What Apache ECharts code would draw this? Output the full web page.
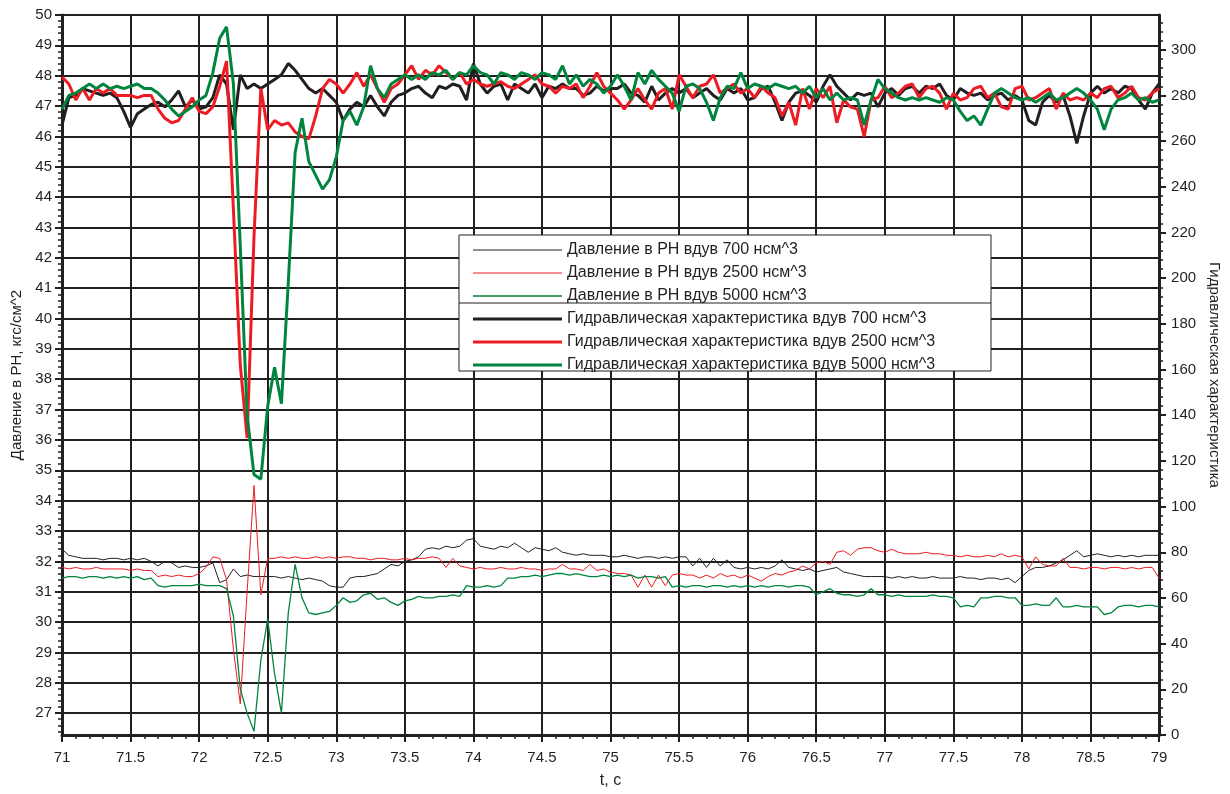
<!DOCTYPE html>
<html><head><meta charset="utf-8">
<script src="https://cdn.jsdelivr.net/npm/echarts@6/dist/echarts.min.js"></script>
<style>html,body{margin:0;padding:0;background:#fff}#c{width:1230px;height:794px}</style>
</head><body><div id="c"></div>
<script>
// sampling grid of the recorded signals (s)
const T_START = 71;
const T_STEP = 0.05;

// Давление в РН, кгс/см^2 (left axis)
const pressure700 = [
32.4,32.2,32.15,32.1,32.1,32.1,32.05,32.1,32.1,32.05,
32.1,32.05,32.1,32.0,31.85,32.0,31.95,31.8,31.85,31.8,
31.8,31.85,31.95,31.3,31.4,31.75,31.5,31.55,31.5,31.5,
31.5,31.5,31.45,31.5,31.45,31.4,31.45,31.4,31.35,31.2,
31.15,31.15,31.45,31.5,31.5,31.55,31.6,31.75,31.9,31.85,
32.0,32.05,32.15,32.4,32.45,32.4,32.5,32.45,32.5,32.7,
32.75,32.5,32.45,32.4,32.5,32.45,32.6,32.45,32.3,32.45,
32.4,32.35,32.45,32.3,32.25,32.2,32.25,32.2,32.2,32.2,
32.15,32.15,32.2,32.15,32.1,32.15,32.15,32.1,32.15,32.1,
32.15,32.15,31.85,32.1,31.8,32.1,31.85,32.05,31.8,31.75,
31.8,31.75,31.8,31.75,31.85,32.05,31.8,31.75,31.7,31.75,
31.65,31.7,31.75,31.8,31.65,31.6,31.55,31.5,31.5,31.5,
31.5,31.45,31.5,31.45,31.5,31.45,31.45,31.5,31.45,31.45,
31.45,31.5,31.45,31.45,31.4,31.45,31.45,31.4,31.45,31.3,
31.5,31.7,31.8,31.8,31.85,31.95,32.05,32.2,32.35,32.15,
32.2,32.25,32.2,32.15,32.2,32.15,32.2,32.15,32.2,32.2,
32.2];
const pressure2500 = [
31.8,31.75,31.8,31.75,31.75,31.8,31.75,31.75,31.75,31.75,
31.7,31.75,31.7,31.7,31.5,31.55,31.5,31.55,31.5,31.5,
31.6,31.8,32.15,32.1,31.4,29.1,27.3,31.0,34.5,30.9,
32.1,32.1,32.15,32.1,32.15,32.1,32.1,32.15,32.1,32.15,
32.1,32.15,32.15,32.1,32.1,32.05,32.1,32.1,32.05,32.05,
32.1,32.05,32.1,32.1,32.15,32.1,31.8,32.1,31.85,31.8,
31.75,31.8,31.75,31.75,31.8,31.75,31.75,31.8,31.75,31.75,
31.7,31.75,31.75,31.9,31.75,31.75,31.7,31.9,31.7,31.75,
31.65,31.6,31.6,31.55,31.15,31.55,31.15,31.55,31.2,31.55,
31.6,31.55,31.55,31.45,31.55,31.45,31.6,31.5,31.55,31.45,
31.55,31.45,31.35,31.5,31.6,31.55,31.65,31.7,31.85,31.75,
31.95,32.0,31.9,32.3,32.35,32.2,32.4,32.45,32.45,32.35,
32.3,32.4,32.3,32.25,32.25,32.25,32.3,32.25,32.25,32.2,
32.2,32.15,32.2,32.15,32.15,32.2,32.15,32.25,32.15,32.2,
32.15,31.75,32.15,31.9,31.85,31.85,32.1,31.8,31.8,31.75,
31.8,31.8,31.75,31.8,31.8,31.75,31.8,31.75,31.8,31.8,
31.45];
const pressure5000 = [
31.45,31.5,31.5,31.45,31.5,31.5,31.45,31.5,31.45,31.5,
31.45,31.5,31.4,31.45,31.2,31.15,31.2,31.2,31.2,31.2,
31.25,31.2,31.2,31.2,31.1,30.2,27.8,27.0,26.4,28.75,
30.1,28.3,27.0,30.3,31.9,30.8,30.3,30.25,30.3,30.35,
30.55,30.8,30.65,30.7,30.9,30.95,30.75,30.8,30.65,30.55,
30.7,30.75,30.85,30.8,30.8,30.85,30.85,30.9,30.85,31.2,
31.15,31.15,31.2,31.15,31.2,31.45,31.45,31.5,31.5,31.55,
31.5,31.55,31.6,31.6,31.55,31.6,31.55,31.5,31.5,31.55,
31.5,31.55,31.5,31.55,31.45,31.5,31.5,31.45,31.5,31.15,
31.2,31.15,31.2,31.2,31.15,31.2,31.2,31.15,31.2,31.15,
31.2,31.15,31.2,31.15,31.2,31.2,31.15,31.2,31.2,31.15,
30.9,31.0,31.1,30.95,30.9,30.9,30.85,30.9,31.1,30.9,
30.9,30.85,30.9,30.85,30.85,30.85,30.85,30.9,30.85,30.85,
30.8,30.5,30.55,30.5,30.8,30.8,30.85,30.85,30.8,30.8,
30.55,30.55,30.6,30.55,30.55,30.8,30.5,30.5,30.55,30.5,
30.5,30.5,30.25,30.3,30.5,30.55,30.55,30.5,30.55,30.55,
30.5];

// Гидравлическая характеристика (right axis)
const hydro700 = [
267,279,280,283,282,281,280,281,279,273,
266,272,274,276,277,275,278,282,275,278,
274,275,279,289,285,265,289,283,285,283,
285,287,289,294,291,287,283,281,283,280,
277,269,274,277,275,280,275,271,277,280,
281,283,284,281,279,284,283,285,284,278,
294,285,281,284,285,278,285,283,281,285,
279,284,283,285,283,283,280,281,284,282,
283,283,285,281,280,277,284,278,281,283,
281,283,279,281,283,280,278,283,281,283,
278,279,283,284,277,269,277,281,282,280,
277,284,289,284,281,278,281,280,281,275,
281,283,280,283,284,281,284,283,285,280,
278,283,281,280,281,278,280,281,278,280,
278,269,267,277,280,277,280,271,259,271,
281,284,281,283,281,284,283,278,274,281,
285];
const hydro2500 = [
288,285,278,283,278,283,281,283,280,280,
280,279,280,280,274,270,268,269,274,279,
273,272,275,284,295,230,162,130,218,283,
265,269,267,268,264,262,261,271,283,287,
285,281,285,290,284,289,283,277,283,285,
289,293,287,291,289,293,290,287,290,285,
287,285,284,285,286,284,283,285,287,289,
285,284,281,284,283,285,279,284,290,284,
281,278,274,278,283,278,274,281,283,274,
289,284,279,284,285,289,281,283,285,281,
283,279,284,281,279,271,277,267,283,274,
283,279,284,268,278,275,274,262,278,279,
284,279,281,284,285,279,283,284,281,274,
281,278,279,283,284,279,281,275,274,283,
284,278,279,281,283,274,281,278,279,278,
281,279,283,284,279,281,284,279,278,281,
283];
const hydro5000 = [
274,280,281,283,285,283,285,283,284,283,
284,285,283,283,281,278,274,271,273,275,
278,280,290,305,310,285,214,140,114,112,
144,161,145,198,255,270,251,245,239,243,
253,269,273,267,275,293,283,279,285,287,
289,287,289,287,290,289,291,287,290,289,
293,290,289,285,290,289,287,290,289,287,
290,289,287,293,285,289,284,287,285,281,
284,289,284,278,290,285,291,287,284,281,
273,284,285,283,277,269,279,284,283,290,
283,285,284,283,285,284,283,284,281,284,
279,283,278,281,278,279,278,267,278,287,
283,281,279,278,279,278,279,278,277,279,
278,273,269,271,267,274,281,283,281,279,
278,279,277,279,281,278,279,281,283,281,
278,274,265,274,278,279,281,278,279,277,
278];

// tick labels
const leftTicks = [27,28,29,30,31,32,33,34,35,36,37,38,39,40,41,42,43,44,45,46,47,48,49,50];
const rightTicks = [0,20,40,60,80,100,120,140,160,180,200,220,240,260,280,300];

const names = [
  'Давление в РН вдув 700 нсм^3',
  'Давление в РН вдув 2500 нсм^3',
  'Давление в РН вдув 5000 нсм^3',
  'Гидравлическая характеристика вдув 700 нсм^3',
  'Гидравлическая характеристика вдув 2500 нсм^3',
  'Гидравлическая характеристика вдув 5000 нсм^3'
];

const INK = '#231f20', RED = '#ed1c24', GREEN = '#00853e';
const FONT = '"Liberation Sans", Arial, sans-serif';

function pairs(arr) {
  return arr.map((v, i) => [Math.round((T_START + i * T_STEP) * 100) / 100, v]);
}

// minor tick positions (0.2 on the left, 4 on the right)
const leftMinor = [];
for (let k = 132; k < 250; k++) { if (k % 5 !== 0) leftMinor.push(k / 5); }
const rightMinor = [];
for (let k = 4; k <= 312; k += 4) { if (k % 20 !== 0) rightMinor.push(k); }

const LMIN = 26.28, LMAX = 50, RMIN = 0, RMAX = 315.2;

function line(name, data, color, width, yIdx) {
  return {
    name, type: 'line', data: pairs(data), yAxisIndex: yIdx,
    symbol: 'none', showSymbol: false, sampling: null,
    lineStyle: { color, width }, itemStyle: { color },
    emphasis: { disabled: true }, animation: false, z: 2
  };
}

const THIN_ICON = 'path://M0,0H89V1H0Z';
const THICK_ICON = 'path://M0,0H89V3H0Z';

const chart = echarts.init(document.getElementById('c'), null, { renderer: 'canvas' });
chart.setOption({
  backgroundColor: '#fff',
  animation: false,
  textStyle: { fontFamily: FONT },
  grid: { left: 62, right: 70, top: 15, bottom: 53, containLabel: false },
  xAxis: {
    type: 'value', min: 71, max: 79, interval: 0.5,
    name: 't, с', nameLocation: 'middle', nameGap: 38,
    nameTextStyle: { color: INK, fontSize: 16, fontFamily: FONT },
    axisLine: { show: true, onZero: false, lineStyle: { color: INK, width: 3 } },
    axisTick: { show: true, length: 7, lineStyle: { color: INK, width: 2 } },
    minorTick: { show: true, splitNumber: 5, length: 4, lineStyle: { color: INK, width: 1.5 } },
    axisLabel: { color: INK, fontSize: 15, fontFamily: FONT, margin: 15 },
    splitLine: { show: true, lineStyle: { color: INK, width: 2 } }
  },
  yAxis: [
    {
      type: 'value', position: 'left', min: LMIN, max: LMAX,
      name: 'Давление в РН, кгс/см^2', nameLocation: 'middle', nameGap: 38, nameRotate: 90,
      nameTextStyle: { color: INK, fontSize: 15, fontFamily: FONT },
      axisLine: { show: true, onZero: false, lineStyle: { color: INK, width: 3 } },
      axisTick: { show: true, length: 7, customValues: leftTicks, lineStyle: { color: INK, width: 2 } },
      axisLabel: { color: INK, fontSize: 15, fontFamily: FONT, margin: 10, customValues: leftTicks },
      splitLine: { show: true, lineStyle: { color: INK, width: 2 } }
    },
    {
      type: 'value', position: 'right', min: RMIN, max: RMAX,
      name: 'Гидравлическая характеристика', nameLocation: 'middle', nameGap: 46, nameRotate: -90,
      nameTextStyle: { color: INK, fontSize: 15, fontFamily: FONT },
      axisLine: { show: true, onZero: false, lineStyle: { color: INK, width: 3 } },
      axisTick: { show: true, length: 7, customValues: rightTicks, lineStyle: { color: INK, width: 2 } },
      axisLabel: { color: INK, fontSize: 15, fontFamily: FONT, margin: 12, customValues: rightTicks },
      splitLine: { show: false }
    },
    {
      type: 'value', position: 'left', min: LMIN, max: LMAX,
      axisLine: { show: false, onZero: false },
      axisTick: { show: true, length: 4, customValues: leftMinor, lineStyle: { color: INK, width: 1.5 } },
      axisLabel: { show: false }, splitLine: { show: false }
    },
    {
      type: 'value', position: 'right', min: RMIN, max: RMAX,
      axisLine: { show: false, onZero: false },
      axisTick: { show: true, length: 4, customValues: rightMinor, lineStyle: { color: INK, width: 1.5 } },
      axisLabel: { show: false }, splitLine: { show: false }
    }
  ],
  legend: {
    orient: 'vertical', left: 468, top: 237, z: 10,
    itemWidth: 89, itemHeight: 14, itemGap: 7,
    selectedMode: false,
    itemStyle: { borderWidth: 0 },
    textStyle: { color: INK, fontSize: 16, fontFamily: FONT },
    data: [
      { name: names[0], icon: THIN_ICON },
      { name: names[1], icon: THIN_ICON },
      { name: names[2], icon: 'path://M0,0H89V1.5H0Z' },
      { name: names[3], icon: THICK_ICON },
      { name: names[4], icon: THICK_ICON },
      { name: names[5], icon: THICK_ICON }
    ]
  },
  graphic: {
    elements: [
      { type: 'rect', z: 5, shape: { x: 459, y: 235, width: 532, height: 136 },
        style: { fill: '#fff', stroke: INK, lineWidth: 1 } },
      { type: 'line', z: 6, shape: { x1: 459, y1: 303, x2: 991, y2: 303 },
        style: { stroke: INK, lineWidth: 1 } }
    ]
  },
  series: [
    line(names[0], pressure700, INK, 1, 0),
    line(names[1], pressure2500, RED, 1, 0),
    line(names[2], pressure5000, GREEN, 1.3, 0),
    line(names[3], hydro700, INK, 3, 1),
    line(names[4], hydro2500, RED, 3, 1),
    line(names[5], hydro5000, GREEN, 3, 1)
  ]
});
</script></body></html>
